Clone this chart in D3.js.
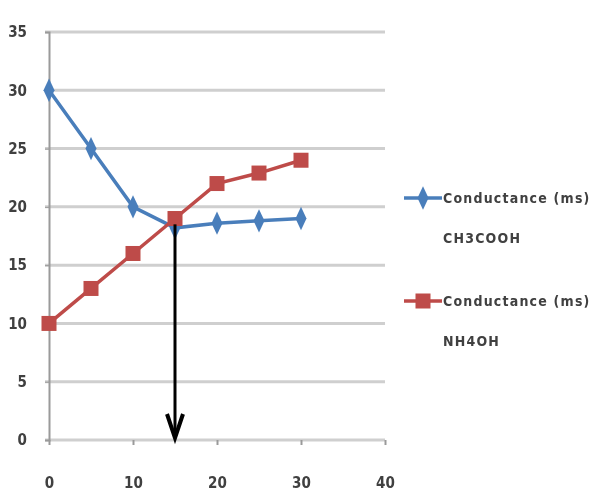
<!DOCTYPE html>
<html>
<head>
<meta charset="utf-8">
<script src="https://cdn.jsdelivr.net/npm/d3@7"></script>
<style>
  body { margin: 0; background: #fff; }
  text { font-family: "DejaVu Sans Condensed", "Liberation Sans Narrow", sans-serif; font-weight: bold; fill: #404040; }
</style>
</head>
<body>
<div id="chart"></div>
<script>
// Conductometric titration chart: two series crossing at the end point

const volumes = [0, 5, 10, 15, 20, 25, 30];
const acetic = [30, 25, 20, 18.2, 18.6, 18.8, 19];   // Conductance (ms) CH3COOH
const ammonia = [10, 13, 16, 19, 22, 22.9, 24];      // Conductance (ms) NH4OH
const endPoint = { x: 15, y: 18.5 };
const xTicks = [0, 10, 20, 30, 40];
const yTicks = [0, 5, 10, 15, 20, 25, 30, 35];

const W = 602, H = 503;
const margin = { top: 32, right: 216, bottom: 63, left: 49 };

const svg = d3.select("#chart").append("svg")
    .attr("width", W)
    .attr("height", H);

// soft blur, the reference is a low-res scan
svg.append("defs").append("filter")
    .attr("id", "soft")
    .append("feGaussianBlur")
    .attr("stdDeviation", 0.7);

const g = svg.append("g").attr("filter", "url(#soft)");

const x = d3.scaleLinear().domain([0, 40]).range([margin.left, W - margin.right - 1]);
const y = d3.scaleLinear().domain([0, 35]).range([H - margin.bottom, margin.top]);

// Gridlines
g.append("g")
    .selectAll("line")
    .data(yTicks)
    .join("line")
    .attr("x1", margin.left - 4)
    .attr("x2", x(40))
    .attr("y1", d => y(d))
    .attr("y2", d => y(d))
    .attr("stroke", "#cfcfcf")
    .attr("stroke-width", 3);

// Y axis
const yAxis = g.append("g")
    .attr("transform", `translate(${margin.left},0)`)
    .call(d3.axisLeft(y).tickValues(yTicks).tickSize(4).tickPadding(18));
yAxis.select(".domain").attr("stroke", "#9a9a9a").attr("stroke-width", 2);
yAxis.selectAll(".tick line").attr("stroke", "#9a9a9a");
yAxis.selectAll("text").style("font-size", "15px").attr("fill", "#404040");

// X axis
const xAxis = g.append("g")
    .attr("transform", `translate(0,${y(0)})`)
    .call(d3.axisBottom(x).tickValues(xTicks).tickSize(5).tickPadding(32));
xAxis.select(".domain").remove();
xAxis.selectAll(".tick line").attr("stroke", "#9a9a9a").attr("stroke-width", 2);
xAxis.selectAll("text").style("font-size", "15px").attr("fill", "#404040");

const blue = "#4a7ebb";
const red = "#be4b48";

const line = d3.line().x(d => x(d[0])).y(d => y(d[1]));

const seriesA = volumes.map((v, i) => [v, acetic[i]]);
const seriesB = volumes.map((v, i) => [v, ammonia[i]]);

g.append("path").datum(seriesA)
    .attr("d", line).attr("fill", "none")
    .attr("stroke", blue).attr("stroke-width", 3.5);

g.append("path").datum(seriesB)
    .attr("d", line).attr("fill", "none")
    .attr("stroke", red).attr("stroke-width", 3.5);

const diamond = d3.symbol().type(d3.symbolDiamond).size(130);

g.selectAll(".mA").data(seriesA).join("path")
    .attr("class", "mA")
    .attr("d", diamond)
    .attr("transform", d => `translate(${x(d[0])},${y(d[1])}) scale(0.9,1.1)`)
    .attr("fill", blue);

g.selectAll(".mB").data(seriesB).join("rect")
    .attr("class", "mB")
    .attr("x", d => x(d[0]) - 7.5)
    .attr("y", d => y(d[1]) - 7.5)
    .attr("width", 15)
    .attr("height", 15)
    .attr("fill", red);

// End point arrow
const ax = x(endPoint.x);
g.append("line")
    .attr("x1", ax).attr("x2", ax)
    .attr("y1", y(endPoint.y)).attr("y2", y(0) - 4)
    .attr("stroke", "#000").attr("stroke-width", 3);
g.append("path")
    .attr("d", `M${ax - 8},${y(0) - 26} L${ax},${y(0) - 2} L${ax + 8},${y(0) - 26}`)
    .attr("fill", "none").attr("stroke", "#000").attr("stroke-width", 4);

// Legend
const legendItems = [
    { color: blue, shape: "diamond", lines: ["Conductance (ms)", "CH3COOH"], y: 198 },
    { color: red, shape: "square", lines: ["Conductance (ms)", "NH4OH"], y: 301 }
];

const lg = g.append("g");
legendItems.forEach(item => {
    const row = lg.append("g").attr("transform", `translate(404,${item.y})`);
    row.append("line")
        .attr("x1", 0).attr("x2", 38)
        .attr("stroke", item.color).attr("stroke-width", 3.5);
    if (item.shape === "diamond") {
        row.append("path").attr("d", diamond)
            .attr("transform", "translate(19,0) scale(0.9,1.1)")
            .attr("fill", item.color);
    } else {
        row.append("rect")
            .attr("x", 11.5).attr("y", -7.5).attr("width", 15).attr("height", 15)
            .attr("fill", item.color);
    }
    row.selectAll("text").data(item.lines).join("text")
        .attr("x", 39)
        .attr("y", (d, i) => 5 + i * 40)
        .style("font-size", "14px")
        .style("letter-spacing", "1.2px")
        .text(d => d);
});
</script>
</body>
</html>
